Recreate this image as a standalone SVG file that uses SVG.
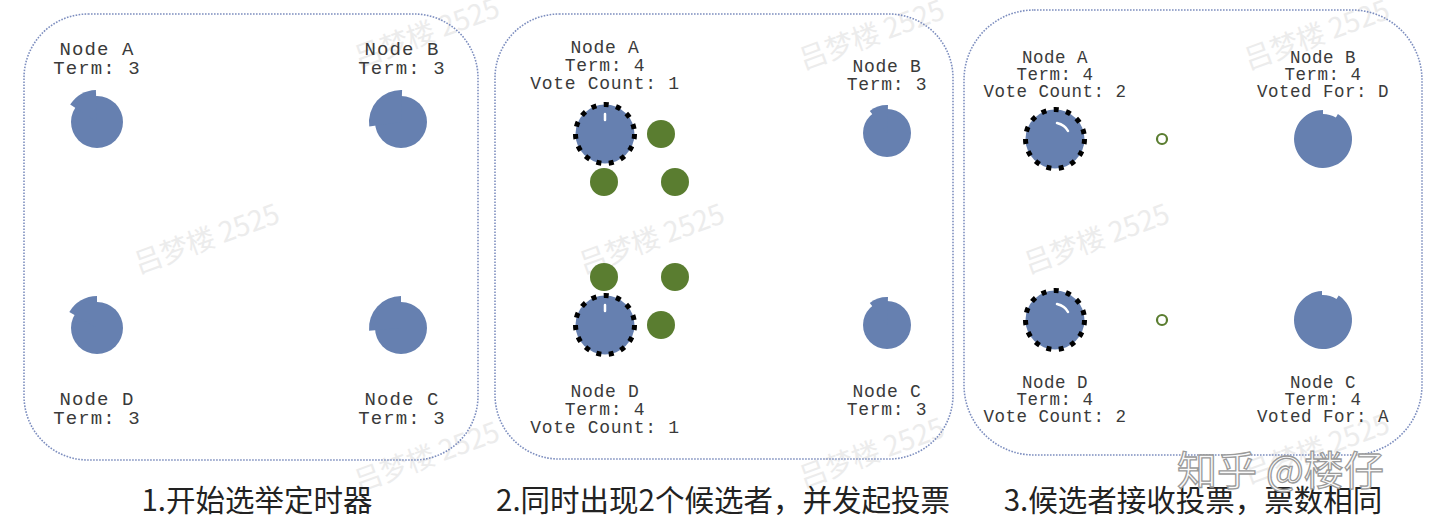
<svg xmlns="http://www.w3.org/2000/svg" width="1440" height="528" viewBox="0 0 1440 528">
<style>
.bg{fill:#fff}
.wm{font-family:"Noto Sans CJK SC","Noto Sans",sans-serif;font-size:28px;fill:#ececec}
.wm2{font-family:"Noto Sans CJK SC",sans-serif;font-size:40px;fill:#fafafa;stroke:#9a9a9a;stroke-width:1.3}
.panel{fill:none;stroke:#7d8ebf;stroke-width:1.6;stroke-dasharray:1.6 1.4}
.l1{font-family:"Liberation Mono","DejaVu Sans Mono",monospace;font-size:19px;letter-spacing:1.1px;fill:#3a3a3a;text-anchor:middle}
.l2{font-family:"Liberation Mono","DejaVu Sans Mono",monospace;font-size:18px;letter-spacing:0.7px;fill:#3a3a3a;text-anchor:middle}
.l3{font-family:"Liberation Mono","DejaVu Sans Mono",monospace;font-size:17.5px;letter-spacing:0.5px;fill:#3a3a3a;text-anchor:middle}
.node{fill:#6680b0}
.cand{fill:#6680b0;stroke:#000;stroke-width:5;stroke-dasharray:5 7.5}
.hl{fill:none;stroke:#fff;stroke-width:2.5;stroke-linecap:round}
.vote{fill:#5a7d30}
.ring{fill:#fff;stroke:#5a7d30;stroke-width:2.2}
.cap{font-family:"Noto Sans CJK SC","Noto Sans",sans-serif;font-size:29.5px;fill:#222;text-anchor:middle}
</style>
<rect class="bg" x="0" y="0" width="1440" height="528"/>

<g id="watermarks">
  <text class="wm" transform="translate(210,248) rotate(-20)" text-anchor="middle">吕梦楼 2525</text>
  <text class="wm" transform="translate(655,248) rotate(-20)" text-anchor="middle">吕梦楼 2525</text>
  <text class="wm" transform="translate(1100,248) rotate(-20)" text-anchor="middle">吕梦楼 2525</text>
  <text class="wm" transform="translate(430,42) rotate(-20)" text-anchor="middle">吕梦楼 2525</text>
  <text class="wm" transform="translate(875,44) rotate(-20)" text-anchor="middle">吕梦楼 2525</text>
  <text class="wm" transform="translate(1320,44) rotate(-20)" text-anchor="middle">吕梦楼 2525</text>
  <text class="wm" transform="translate(430,466) rotate(-20)" text-anchor="middle">吕梦楼 2525</text>
  <text class="wm" transform="translate(875,462) rotate(-20)" text-anchor="middle">吕梦楼 2525</text>
  <text class="wm" transform="translate(1320,458) rotate(-20)" text-anchor="middle">吕梦楼 2525</text>
</g>

<g id="panels">
  <rect class="panel" x="24" y="14" width="454" height="446" rx="64" ry="64"/>
  <rect class="panel" x="495" y="14" width="458" height="445" rx="64" ry="64"/>
  <rect class="panel" x="964" y="10" width="458" height="445" rx="70" ry="70"/>
</g>

<g id="connectors"></g>

<!-- Panel 1 -->
<g id="p1-nodeA">
  <g transform="translate(97,122)">
    <circle class="node" r="26"/>
    <path class="node" d="M0 0 L-26.8 -17.4 A32 32 0 0 1 -1.1 -32 Z"/>
  </g>
  <text class="l1" x="97" y="55">Node A</text>
  <text class="l1" x="97" y="74">Term: 3</text>
</g>
<g id="p1-nodeB">
  <g transform="translate(401,122)">
    <circle class="node" r="26"/>
    <path class="node" d="M0 0 L-31.7 4.5 A32 32 0 0 1 1.1 -32 Z"/>
  </g>
  <text class="l1" x="402" y="55">Node B</text>
  <text class="l1" x="402" y="74">Term: 3</text>
</g>
<g id="p1-nodeD">
  <g transform="translate(97,328)">
    <circle class="node" r="26"/>
    <path class="node" d="M0 0 L-27.7 -16 A32 32 0 0 1 0 -32 Z"/>
  </g>
  <text class="l1" x="97" y="405">Node D</text>
  <text class="l1" x="97" y="424">Term: 3</text>
</g>
<g id="p1-nodeC">
  <g transform="translate(401,328)">
    <circle class="node" r="26"/>
    <path class="node" d="M0 0 L-31.9 2.8 A32 32 0 0 1 0 -32 Z"/>
  </g>
  <text class="l1" x="402" y="405">Node C</text>
  <text class="l1" x="402" y="424">Term: 3</text>
</g>
<text id="cap1" class="cap" x="257" y="511">1.开始选举定时器</text>

<!-- Panel 2 -->
<g id="p2-nodeA">
  <circle class="cand" cx="605" cy="134" r="29.5"/>
  <path class="hl" d="M605 114 L605 120"/>
  <text class="l2" x="605" y="53">Node A</text>
  <text class="l2" x="605" y="71">Term: 4</text>
  <text class="l2" x="605" y="89">Vote Count: 1</text>
</g>
<g id="p2-votesA">
  <circle class="vote" cx="661" cy="134" r="14"/>
  <circle class="vote" cx="604" cy="182" r="14"/>
  <circle class="vote" cx="675" cy="182" r="14"/>
</g>
<g id="p2-nodeB">
  <g transform="translate(887,133)">
    <circle class="node" r="24"/>
    <path class="node" d="M0 0 L-17.2 -22.1 A28 28 0 0 1 1 -28 Z"/>
  </g>
  <text class="l2" x="887" y="72">Node B</text>
  <text class="l2" x="887" y="90">Term: 3</text>
</g>
<g id="p2-votesD">
  <circle class="vote" cx="604" cy="277" r="14"/>
  <circle class="vote" cx="675" cy="277" r="14"/>
  <circle class="vote" cx="661" cy="325" r="14"/>
</g>
<g id="p2-nodeD">
  <circle class="cand" cx="605" cy="325" r="29.5"/>
  <path class="hl" d="M605 305 L605 311"/>
  <text class="l2" x="605" y="397">Node D</text>
  <text class="l2" x="605" y="415">Term: 4</text>
  <text class="l2" x="605" y="433">Vote Count: 1</text>
</g>
<g id="p2-nodeC">
  <g transform="translate(887,325)">
    <circle class="node" r="24"/>
    <path class="node" d="M0 0 L-17.2 -22.1 A28 28 0 0 1 1 -28 Z"/>
  </g>
  <text class="l2" x="887" y="397">Node C</text>
  <text class="l2" x="887" y="415">Term: 3</text>
</g>
<text id="cap2" class="cap" x="723" y="511">2.同时出现2个候选者，并发起投票</text>

<!-- Panel 3 -->
<g id="p3-nodeA">
  <circle class="cand" cx="1055" cy="139" r="29.5"/>
  <path class="hl" d="M1057 123 Q1065 125 1068 131" stroke-width="3.5"/>
  <text class="l3" x="1055" y="63">Node A</text>
  <text class="l3" x="1055" y="80">Term: 4</text>
  <text class="l3" x="1055" y="97">Vote Count: 2</text>
</g>
<g id="p3-voteA">
  <circle class="ring" cx="1162" cy="139" r="5"/>
</g>
<g id="p3-nodeB">
  <path class="node" transform="translate(1323,139)" d="M14.9 -24.9 A29 29 0 1 1 0 -29 L0 -25 A25 25 0 0 1 12.9 -21.4 Z"/>
  <text class="l3" x="1323" y="63">Node B</text>
  <text class="l3" x="1323" y="80">Term: 4</text>
  <text class="l3" x="1323" y="97">Voted For: D</text>
</g>
<g id="p3-nodeD">
  <circle class="cand" cx="1055" cy="320" r="29.5"/>
  <path class="hl" d="M1057 304 Q1065 306 1068 312" stroke-width="3.5"/>
  <text class="l3" x="1055" y="388">Node D</text>
  <text class="l3" x="1055" y="405">Term: 4</text>
  <text class="l3" x="1055" y="422">Vote Count: 2</text>
</g>
<g id="p3-voteD">
  <circle class="ring" cx="1162" cy="320" r="5"/>
</g>
<g id="p3-nodeC">
  <path class="node" transform="translate(1323,320)" d="M15.7 -24.4 A29 29 0 1 1 -1 -29 L-1 -25 A25 25 0 0 1 13.5 -21 Z"/>
  <text class="l3" x="1323" y="388">Node C</text>
  <text class="l3" x="1323" y="405">Term: 4</text>
  <text class="l3" x="1323" y="422">Voted For: A</text>
</g>
<text id="cap3" class="cap" x="1193" y="511">3.候选者接收投票，票数相同</text>

<text id="wm-zhihu" class="wm2" x="1177" y="485">知乎 @楼仔</text>
</svg>
